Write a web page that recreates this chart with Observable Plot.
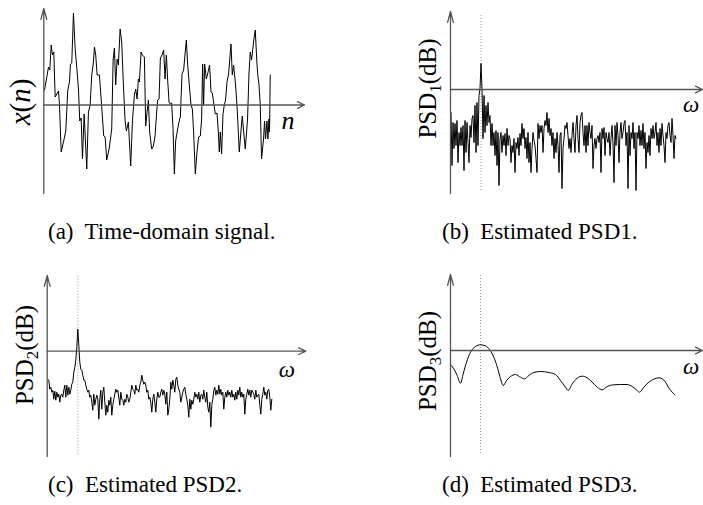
<!DOCTYPE html>
<html>
<head>
<meta charset="utf-8">
<script src="https://cdn.jsdelivr.net/npm/d3@7"></script>
<script src="https://cdn.jsdelivr.net/npm/@observablehq/plot@0.6"></script>
<style>
  html, body { margin: 0; padding: 0; background: #fff; }
  #fig { position: relative; width: 703px; height: 505px; font-family: "Liberation Serif", "Times New Roman", serif; }
  .panel { position: absolute; }
  .cap { position: absolute; font-size: 23px; line-height: 1; white-space: pre; color: #000; }
</style>
</head>
<body>
<div id="fig"></div>
<script>
// (a) time-domain samples: sample position n and amplitude x(n)
const nA = [0.7,3.0,4.7,6.0,7.4,8.7,10.0,11.4,13.0,14.7,15.7,17.4,19.7,22.0,24.0,25.7,26.7,28.0,29.7,31.4,33.0,34.7,36.0,37.4,38.7,40.4,43.0,44.7,46.4,48.0,49.7,50.7,52.0,53.4,55.7,58.0,60.0,61.4,63.0,65.4,68.0,69.4,70.7,72.0,73.4,74.7,76.4,78.0,79.7,81.4,82.7,84.7,87.0,88.7,90.7,92.0,93.4,94.7,95.7,97.4,98.7,100.7,102.0,103.7,104.7,106.0,108.0,109.7,111.4,113.0,114.0,115.4,116.7,118.4,120.0,121.4,122.7,124.0,125.4,126.7,128.0,129.4,130.7,132.0,134.0,136.0,136.7,138.4,140.0,142.7,144.0,146.0,147.4,148.7,150.0,151.7,153.4,155.0,156.7,158.0,159.0,160.0,161.0,162.7,164.0,166.0,167.4,168.7,170.0,171.7,173.4,174.7,175.7,176.7,178.0,179.4,180.7,182.0,183.4,185.0,187.4,188.7,190.0,192.0,193.4,194.7,195.7,197.4,198.7,200.0,201.7,204.0,205.4,206.7,208.0,210.0,211.7,213.4,214.4,215.4,216.7,218.0,220.0,221.0,222.0,223.4,224.4,225.4,226.0,226.7];
const xA = [15,28,38,35,60,50,53,8,11,14,0,-47,-37,-26,15,23,41,42,92,56,38,16,-16,-13,-54,-9,-64,-7,0,30,43,58,50,30,30,-2,-31,-32,-55,-44,-24,45,57,20,46,40,76,63,20,-16,-26,-17,-61,-17,10,16,6,26,23,53,50,48,-21,-4,5,-27,-44,-41,-31,-7,5,6,47,50,55,26,50,25,3,1,2,-24,-69,-36,-24,-14,-12,31,35,65,41,16,0,-4,-27,-69,-47,-32,-31,-14,41,0,41,26,31,40,13,12,3,-9,-8,-26,-47,-27,-49,-9,0,5,23,31,61,30,40,20,0,-26,-47,-26,-11,-26,-44,-14,31,53,45,63,75,41,28,21,0,-54,-34,-16,-34,-16,-34,-14,-27,30];

// (b) periodogram estimate, dB per frequency bin
const psd1 = [-23,-76,-33,-59,-34,-56,-31,-73,-43,-56,-38,-56,-36,-81,-31,-63,-33,-53,-73,-36,-48,-29,-26,-53,-16,-63,-13,-56,-6,1,26,
  1,-49,-6,-43,-16,-36,-13,-33,-26,-56,-34,-56,-43,-66,-41,-76,-43,-96,-49,-43,-63,-46,-56,-44,-66,-39,-56,-46,-49,-73,
  -56,-63,-49,-83,-53,-59,-48,-66,-44,-56,-34,-49,-39,-59,-48,-69,-43,-73,-53,-83,-59,-43,-51,-56,-69,-83,-34,-49,-36,-43,
  -36,-63,-39,-31,-36,-23,-43,-29,-46,-39,-56,-43,-69,-49,-63,-43,-56,-83,-46,-43,-99,-59,-49,-36,-39,-33,-46,-59,-49,-63,
  -46,-33,-49,-63,-36,-26,
  -49,-63,-33,-26,-23,-43,-56,-36,-63,-36,-56,-33,-43,-49,-36,-79,-56,-49,-59,-49,-46,-53,-43,-83,-39,-49,-38,-66,-43,-49,
  -53,-43,-66,-49,-36,-53,-93,-36,-56,-33,-46,-73,-43,-33,-49,-43,-34,-31,-56,-43,-99,-36,-66,-43,-49,-33,-59,-43,-101,-43,
  -49,-36,-56,-41,-56,-34,-59,-43,-79,-53,-63,-46,-66,-39,-49,-36,-49,-43,-33,-56,-43,-63,-39,-56,-34,-46,-56,-73,-43,-49,
  -36,-33,-46,-53,-29,-46,-69,-46,-49];

// (c) smoothed periodogram estimate, dB per frequency bin
const psd2 = [-28,-29,-38,-36,-41,-39,-48,-40,-49,-41,-46,-43,-51,-44,-43,-46,-39,-34,-46,-34,-44,-36,-43,-39,-33,-31,-21,-16,-9,4,22,
  6,-11,-18,-19,-24,-29,-29,-34,-38,-41,-39,-46,-44,-51,-59,-43,-54,-48,-44,-48,-68,-48,-39,-58,-41,-36,-51,-64,-54,
  -61,-49,-54,-46,-64,-54,-48,-43,-38,-41,-39,-46,-54,-41,-48,-49,-54,-48,-51,-43,-46,-51,-48,-41,-34,-38,-39,-43,-34,-39,
  -38,-41,-34,-31,-24,-29,-33,-31,-34,-41,-39,-48,-46,-51,-61,-48,-43,-51,-61,-48,-41,-46,
  -46,-41,-38,-44,-39,-43,-53,-41,-64,-58,-48,-31,-38,-29,-34,-41,-28,-26,-34,-38,-41,-51,-46,-41,-38,-36,-43,-48,-54,-66,
  -48,-58,-49,-53,-48,-41,-46,-43,-48,-41,-51,-44,-43,-48,-39,-46,-51,-41,-56,-61,-51,-76,-54,-48,-39,-36,-44,-39,-43,-34,
  -43,-38,-44,-41,-58,-46,-41,-46,-39,-44,-41,-46,-39,-46,-43,-49,-41,-48,-39,-44,-36,-46,-41,-46,-43,-63,-48,-43,-38,-44,
  -39,-46,-39,-41,-43,-48,-39,-46,-44,-43,-54,-63,-48,-43,-36,-44,-41,-48,-39,-38,-46,-59,-48];

// (d) parametric estimate: frequency and dB
const omega3 = [0.7,3.3,6.7,10,12.7,16,20,25,30,35,39.3,43.3,47.3,50,52.7,56,60,65,70,74,78.3,83.3,90,98.3,105,110,115,117.7,121.7,126.7,131.7,136.7,141.7,146.7,151.7,156.7,163.3,170,176.7,181.7,186.7,189,193.3,198.3,203.3,208.3,211.7,215,218.3,221.7,224];
const psd3 = [-15,-18.3,-25,-32.7,-23.3,-11.7,-1.7,4,5.7,4.7,0.7,-6.7,-18.3,-28.3,-35,-30,-26,-24,-26.7,-28.3,-25,-22,-21,-22,-24,-30,-36.7,-40,-33.3,-27.7,-25.7,-27.3,-31.7,-36.7,-39.3,-36,-34.3,-34,-34,-36,-40,-41.7,-36.7,-31.7,-28.7,-27.3,-28.3,-31.7,-37.3,-41.7,-44];

// frequency bin of the dominant tone (dotted guide)
const omega0 = 30;

const captions = ["(a)  Time-domain signal.", "(b)  Estimated PSD1.", "(c)  Estimated PSD2.", "(d)  Estimated PSD3."];

const AXIS = "#555";
const SERIF = "Liberation Serif, Times New Roman, serif";

// coordinate axes drawn as arrows from the origin corner
function arrowAxes(xd, yd) {
  return [
    Plot.arrow([0], {x1: xd[0], x2: xd[0], y1: yd[0], y2: yd[1], stroke: AXIS, strokeWidth: 1.3, headLength: 13, headAngle: 30}),
    Plot.arrow([0], {x1: xd[0], x2: xd[1], y1: 0, y2: 0, stroke: AXIS, strokeWidth: 1.3, headLength: 9, headAngle: 50})
  ];
}

function tipLabel(text, xd, dx, dy, size = 23) {
  return Plot.text([text], {x: xd[1], y: 0, dx, dy, fontSize: size, fontStyle: "italic", fontFamily: SERIF, fill: "#000"});
}

function guide(y1, y2) {
  return Plot.ruleX([omega0], {y1, y2, stroke: "#999", strokeWidth: 1, strokeDasharray: "1,2"});
}

// rotated y-axis title made of styled pieces
function yTitle(svg, bx, cy, parts, size = 25) {
  const t = d3.select(svg).append("text")
    .attr("transform", `translate(${bx},${cy}) rotate(-90)`)
    .attr("text-anchor", "middle")
    .attr("font-family", SERIF)
    .attr("font-size", size)
    .attr("fill", "#000");
  for (const p of parts) {
    const s = t.append("tspan").text(p.t);
    if (p.italic) s.attr("font-style", "italic");
    if (p.size) s.attr("font-size", p.size);
    if (p.dy) s.attr("dy", p.dy);
  }
}

function place(svg, left, top) {
  svg.classList.add("panel");
  svg.style.left = left + "px";
  svg.style.top = top + "px";
  document.getElementById("fig").appendChild(svg);
}

const base = {margin: 0, style: {background: "transparent", overflow: "visible"}};

// (a)
{
  const xd = [0, 261], yd = [-88.5, 96.5];
  const svg = Plot.plot({...base, width: 352, height: 200,
    x: {domain: xd, range: [43.3, 304], axis: null},
    y: {domain: yd, range: [193, 8], axis: null},
    marks: [
      Plot.lineY(xA, {x: nA, stroke: "#000", strokeWidth: 1}),
      ...arrowAxes(xd, yd),
      tipLabel("n", xd, -16.5, 16, 26)
    ]});
  yTitle(svg, 30, 102, [{t: "x", italic: true}, {t: "("}, {t: "n", italic: true}, {t: ")"}], 29);
  place(svg, 0, 0);
}

// (b)
{
  const xd = [-0.5, 251.5], yd = [-104, 78];
  const svg = Plot.plot({...base, width: 351, height: 200,
    x: {domain: xd, range: [98, 350], axis: null},
    y: {domain: yd, range: [193, 11], axis: null},
    marks: [
      guide(74, -103),
      Plot.lineY(psd1, {stroke: "#000", strokeWidth: 1}),
      ...arrowAxes(xd, yd),
      tipLabel("ω", xd, -11.5, 15)
    ]});
  yTitle(svg, 84, 88.5, [{t: "PSD"}, {t: "1", size: 17, dy: 5}, {t: "(dB)", dy: -5}]);
  place(svg, 352, 0);
}

// (c)
{
  const xd = [-0.6, 258], yd = [-105.3, 75.7];
  const svg = Plot.plot({...base, width: 352, height: 200,
    x: {domain: xd, range: [46.7, 305.3], axis: null},
    y: {domain: yd, range: [196, 15], axis: null},
    marks: [
      guide(75, -104),
      Plot.lineY(psd2, {stroke: "#000", strokeWidth: 1}),
      ...arrowAxes(xd, yd),
      tipLabel("ω", xd, -19, 18)
    ]});
  yTitle(svg, 33, 95, [{t: "PSD"}, {t: "2", size: 17, dy: 5}, {t: "(dB)", dy: -5}]);
  place(svg, 0, 260);
}

// (d)
{
  const xd = [0, 252], yd = [-106, 76];
  const svg = Plot.plot({...base, width: 351, height: 200,
    x: {domain: xd, range: [98, 350], axis: null},
    y: {domain: yd, range: [196, 14], axis: null},
    marks: [
      guide(75, -105),
      Plot.lineY(psd3, {x: omega3, curve: "monotone-x", stroke: "#000", strokeWidth: 1}),
      ...arrowAxes(xd, yd),
      tipLabel("ω", xd, -11.5, 16)
    ]});
  yTitle(svg, 84, 101, [{t: "PSD"}, {t: "3", size: 17, dy: 5}, {t: "(dB)", dy: -5}]);
  place(svg, 352, 260);
}

// sub-figure captions
const capPos = [[48, 220], [442, 220], [48, 473], [442, 473]];
captions.forEach((c, i) => {
  const d = document.createElement("div");
  d.className = "cap";
  d.textContent = c;
  d.style.left = capPos[i][0] + "px";
  d.style.top = capPos[i][1] + "px";
  document.getElementById("fig").appendChild(d);
});
</script>
</body>
</html>
